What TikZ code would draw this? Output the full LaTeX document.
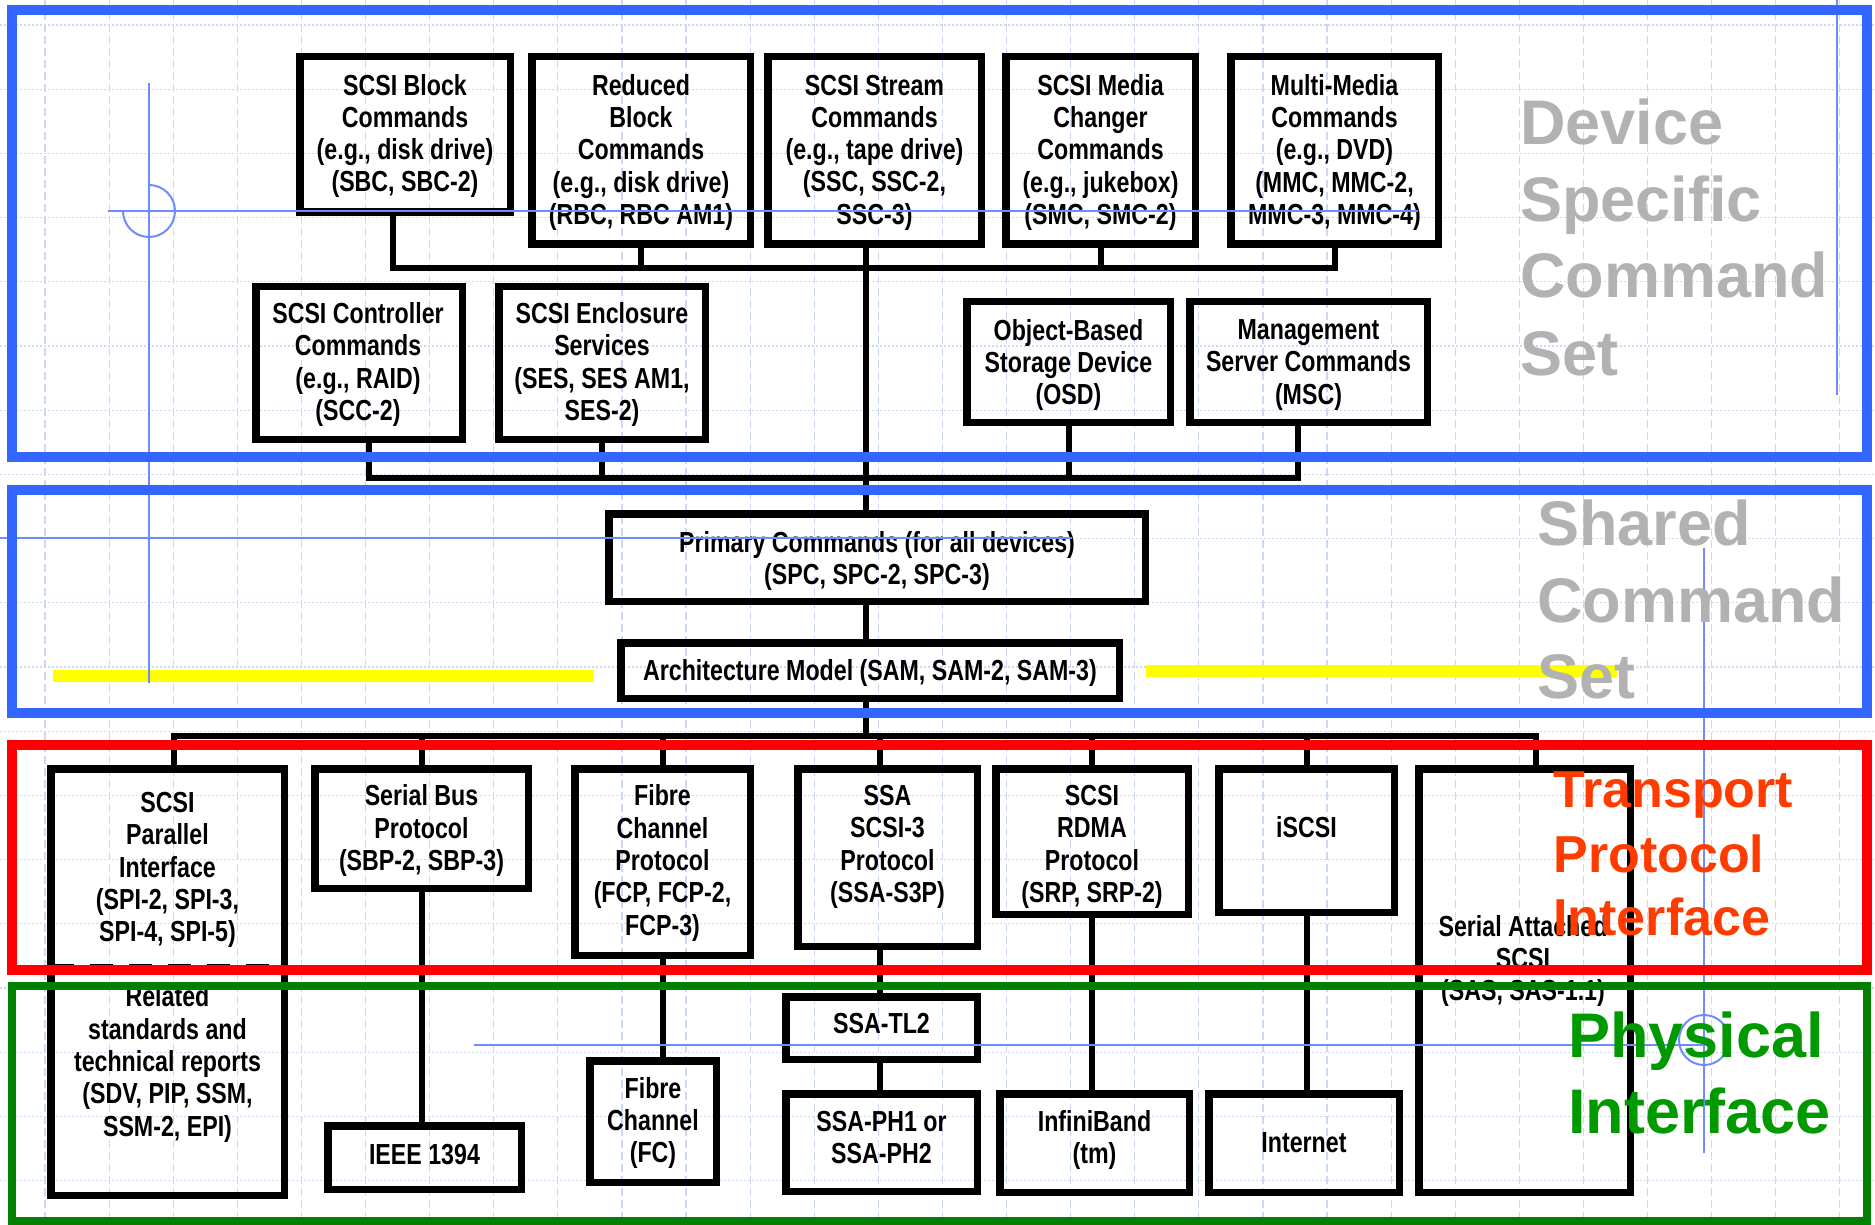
\documentclass[tikz,border=0pt]{standalone}
\usepackage{fontspec}
\setmainfont{Liberation Sans}
\newfontfamily\narrowbf[FakeStretch=0.8]{Liberation Sans Bold}
\newfontfamily\labelbf{Liberation Sans Bold}
\definecolor{frameblue}{RGB}{51,102,255}
\definecolor{framegreen}{RGB}{0,128,0}
\definecolor{labgreen}{RGB}{0,153,0}
\definecolor{laborange}{RGB}{255,60,0}
\definecolor{labgrey}{RGB}{178,178,178}
\definecolor{guide}{RGB}{110,140,255}
\definecolor{gridc}{RGB}{205,216,246}
\definecolor{hiyellow}{RGB}{255,255,0}
\newcommand\mystrut{\rule[-2.9pt]{0pt}{16.15pt}}
\newcommand\mybox[5]{\node[boxst, minimum width={(#4-#2-7.5)*0.5pt}, minimum height={(#5-#3-7.5)*0.5pt}] (#1) at ({(#2+#4)/2},{(#3+#5)/2}) {};}
\tikzset{
  boxst/.style={draw=black, line width=3.75pt, inner sep=0pt, outer sep=0pt},
  txt/.style={font=\narrowbf\fontsize{14.5pt}{16.15pt}\selectfont, align=center, inner sep=0pt,
    execute at begin node=\mystrut, execute at end node=\mystrut},
  mtxt/.style={txt, yshift=-1.5pt},
  conn/.style={draw=black, line width=3pt, line join=miter, line cap=rect},
  gridv/.style={draw=gridc, line width=0.6pt, dash pattern=on 4pt off 2pt},
  gridh/.style={draw=gridc, line width=0.6pt, dash pattern=on 1pt off 1pt},
  guideln/.style={draw=guide, line width=1pt},
  frm/.style={line width=4.75pt},
  biglab/.style={font=\labelbf\fontsize{31.5pt}{38pt}\selectfont, anchor=base west, inner sep=0pt},
  trlab/.style={font=\labelbf\fontsize{26pt}{32pt}\selectfont, anchor=base west, inner sep=0pt, text=laborange},
}
\begin{document}
\begin{tikzpicture}[x=0.5pt, y=-0.5pt]
\useasboundingbox (0,0) rectangle (1875,1225);
\fill[white] (0,0) rectangle (1875,1225);
% grid
\foreach \i in {0,...,28} \draw[gridv] ({45+64.1*\i},0) -- ({45+64.1*\i},1225);
\foreach \j in {0,...,18} \draw[gridh] (0,{25+64.2*\j}) -- (1875,{25+64.2*\j});
% yellow highlights
\fill[hiyellow] (53,670) rectangle (594,682);
\fill[hiyellow] (1146,665) rectangle (1617,677);
% boxes
\mybox{sbc}{296}{53}{514}{216}
\mybox{rbc}{528}{53}{754}{248}
\mybox{ssc}{764}{53}{985}{248}
\mybox{smc}{1002}{53}{1199}{248}
\mybox{mmc}{1227}{53}{1442}{248}
\mybox{scc}{252}{283}{466}{443}
\mybox{ses}{495}{283}{709}{443}
\mybox{osd}{963}{298}{1174}{426}
\mybox{msc}{1186}{298}{1431}{426}
\mybox{pc}{605}{510}{1149}{605}
\mybox{arch}{617}{639}{1123}{702}
\mybox{spi}{47}{765}{288}{1199}
\mybox{sbp}{311}{765}{532}{892}
\mybox{fcp}{571}{765}{754}{959}
\mybox{ssa}{794}{765}{981}{950}
\mybox{srp}{992}{765}{1192}{918}
\mybox{iscsi}{1215}{765}{1398}{916}
\mybox{sas}{1415}{765}{1634}{1196}
\mybox{ieee}{324}{1122}{525}{1193}
\mybox{fc}{586}{1057}{720}{1186}
\mybox{tl2}{782}{993}{981}{1063}
\mybox{ph}{782}{1090}{981}{1195}
\mybox{ib}{996}{1090}{1193}{1196}
\mybox{inet}{1205}{1090}{1403}{1196}
% texts
\node[mtxt] (sbc-t) at (405,133) {SCSI Block\\Commands\\(e.g., disk drive)\\(SBC, SBC-2)};
\node[mtxt] (rbc-t) at (641,149.5) {Reduced\\Block\\Commands\\(e.g., disk drive)\\(RBC, RBC AM1)};
\node[mtxt] (ssc-t) at (874.5,149.5) {SCSI Stream\\Commands\\(e.g., tape drive)\\(SSC, SSC-2,\\SSC-3)};
\node[mtxt] (smc-t) at (1100.5,149.5) {SCSI Media\\Changer\\Commands\\(e.g., jukebox)\\(SMC, SMC-2)};
\node[mtxt] (mmc-t) at (1334.5,149.5) {Multi-Media\\Commands\\(e.g., DVD)\\(MMC, MMC-2,\\MMC-3, MMC-4)};
\node[mtxt] (scc-t) at (358,361.5) {SCSI Controller\\Commands\\(e.g., RAID)\\(SCC-2)};
\node[mtxt] (ses-t) at (602,361.5) {SCSI Enclosure\\Services\\(SES, SES AM1,\\SES-2)};
\node[mtxt] (osd-t) at (1068.5,362) {Object-Based\\Storage Device\\(OSD)};
\node[mtxt] (msc-t) at (1308.5,362) {Management\\Server Commands\\(MSC)};
\node[mtxt] (pc-t) at (877,558) {Primary Commands (for all devices)\\(SPC, SPC-2, SPC-3)};
\node[txt] (arch-t) at (870,670) {Architecture Model (SAM, SAM-2, SAM-3)};
\node[mtxt] (spi-t) at (167.5,867) {SCSI\\Parallel\\Interface\\(SPI-2, SPI-3,\\SPI-4, SPI-5)};
\node[mtxt] (rel-t) at (167.5,1061) {Related\\standards and\\technical reports\\(SDV, PIP, SSM,\\SSM-2, EPI)};
\node[mtxt] (sbp-t) at (421.5,827.5) {Serial Bus\\Protocol\\(SBP-2, SBP-3)};
\node[mtxt] (fcp-t) at (662.5,860) {Fibre\\Channel\\Protocol\\(FCP, FCP-2,\\FCP-3)};
\node[mtxt] (ssa-t) at (887.5,844) {SSA\\SCSI-3\\Protocol\\(SSA-S3P)};
\node[mtxt] (srp-t) at (1092,844) {SCSI\\RDMA\\Protocol\\(SRP, SRP-2)};
\node[txt] (iscsi-t) at (1306.5,827) {iSCSI};
\node[mtxt] (sas-t) at (1523,958) {Serial Attached\\SCSI\\(SAS, SAS-1.1)};
\node[txt] (ieee-t) at (424.5,1154) {IEEE 1394};
\node[mtxt] (fc-t) at (653,1120) {Fibre\\Channel\\(FC)};
\node[txt] (tl2-t) at (881.5,1023) {SSA-TL2};
\node[mtxt] (ph-t) at (881.5,1137) {SSA-PH1 or\\SSA-PH2};
\node[mtxt] (ib-t) at (1094.5,1137) {InfiniBand\\(tm)};
\node[txt] (inet-t) at (1304,1142) {Internet};
% bus coordinates
\coordinate (b1w) at (393,268);
\coordinate (b1e) at (1335,268);
\coordinate (b2w) at (369,478);
\coordinate (b2e) at (1298,478);
\coordinate (b3w) at (174,736);
\coordinate (b3e) at (1536,736);
\coordinate (trunk) at (866,736);
\coordinate (sst) at (880,736);
% connectors
\draw[conn] (sbc.south -| b1w) -- (b1w) -- (b1e) -- (mmc.south -| b1e);
\draw[conn] (rbc.south) -- (rbc.south |- b1w);
\draw[conn] (smc.south) -- (smc.south |- b1w);
\draw[conn] (ssc.south -| trunk) -- (pc.north -| trunk);
\draw[conn] (scc.south -| b2w) -- (b2w) -- (b2e) -- (msc.south -| b2e);
\draw[conn] (ses.south) -- (ses.south |- b2w);
\draw[conn] (osd.south) -- (osd.south |- b2w);
\draw[conn] (pc.south -| trunk) -- (arch.north -| trunk);
\draw[conn] (arch.south -| trunk) -- (trunk);
\draw[conn] (spi.north -| b3w) -- (b3w) -- (b3e) -- (sas.north -| b3e);
\draw[conn] (sbp.north) -- (sbp.north |- b3w);
\draw[conn] (fcp.north) -- (fcp.north |- b3w);
\draw[conn] (ssa.north -| sst) -- (sst);
\draw[conn] (srp.north) -- (srp.north |- b3w);
\draw[conn] (iscsi.north) -- (iscsi.north |- b3w);
\draw[conn] (sbp.south) -- (sbp.south |- ieee.north);
\draw[conn] (fcp.south) -- (fcp.south |- fc.north);
\draw[conn] (ssa.south -| sst) -- (tl2.north -| sst);
\draw[conn] (tl2.south -| sst) -- (ph.north -| sst);
\draw[conn] (srp.south) -- (srp.south |- ib.north);
\draw[conn] (iscsi.south) -- (iscsi.south |- inet.north);
\draw[black, line width=1.5pt, dash pattern=on 11.5pt off 8pt] (spi.west |- 0,965) -- (spi.east |- 0,965);
% guide marks
\draw[guideln] (149,83) -- (149,683);
\draw[guideln] (108,211) -- (1418,211);
\draw[guideln] (149,185) arc[start angle=90, end angle=-180, radius=13pt];
\draw[guideln] (0,538) -- (1072,538);
\draw[guideln] (1837,0) -- (1837,395);
\draw[guideln] (1704,548) -- (1704,1153);
\draw[guideln] (474,1045) -- (1708,1045);
\draw[guideln] (1704,1040) circle[radius=12.5pt];
% frames
\draw[frm, frameblue] (12,10) rectangle (1867,457);
\draw[frm, frameblue] (12,490) rectangle (1867,713);
\draw[frm, red] (12,745) rectangle (1867,970);
\draw[line width=4pt, framegreen] (12,986) rectangle (1867,1221);
% labels
\node[biglab, text=labgrey] (dev1) at (1520,145) {Device};
\node[biglab, text=labgrey] (dev2) at (1520,222) {Specific};
\node[biglab, text=labgrey] (dev3) at (1520,298) {Command};
\node[biglab, text=labgrey] (dev4) at (1520,375) {Set};
\node[biglab, text=labgrey] (sh1) at (1537,545) {Shared};
\node[biglab, text=labgrey] (sh2) at (1537,622) {Command};
\node[biglab, text=labgrey] (sh3) at (1537,698) {Set};
\node[trlab] (tr1) at (1553,807) {Transport};
\node[trlab] (tr2) at (1553,872) {Protocol};
\node[trlab] (tr3) at (1553,935) {Interface};
\node[biglab, text=labgreen] (ph1) at (1568,1057) {Physical};
\node[biglab, text=labgreen] (ph2) at (1568,1133) {Interface};
\end{tikzpicture}
\end{document}
